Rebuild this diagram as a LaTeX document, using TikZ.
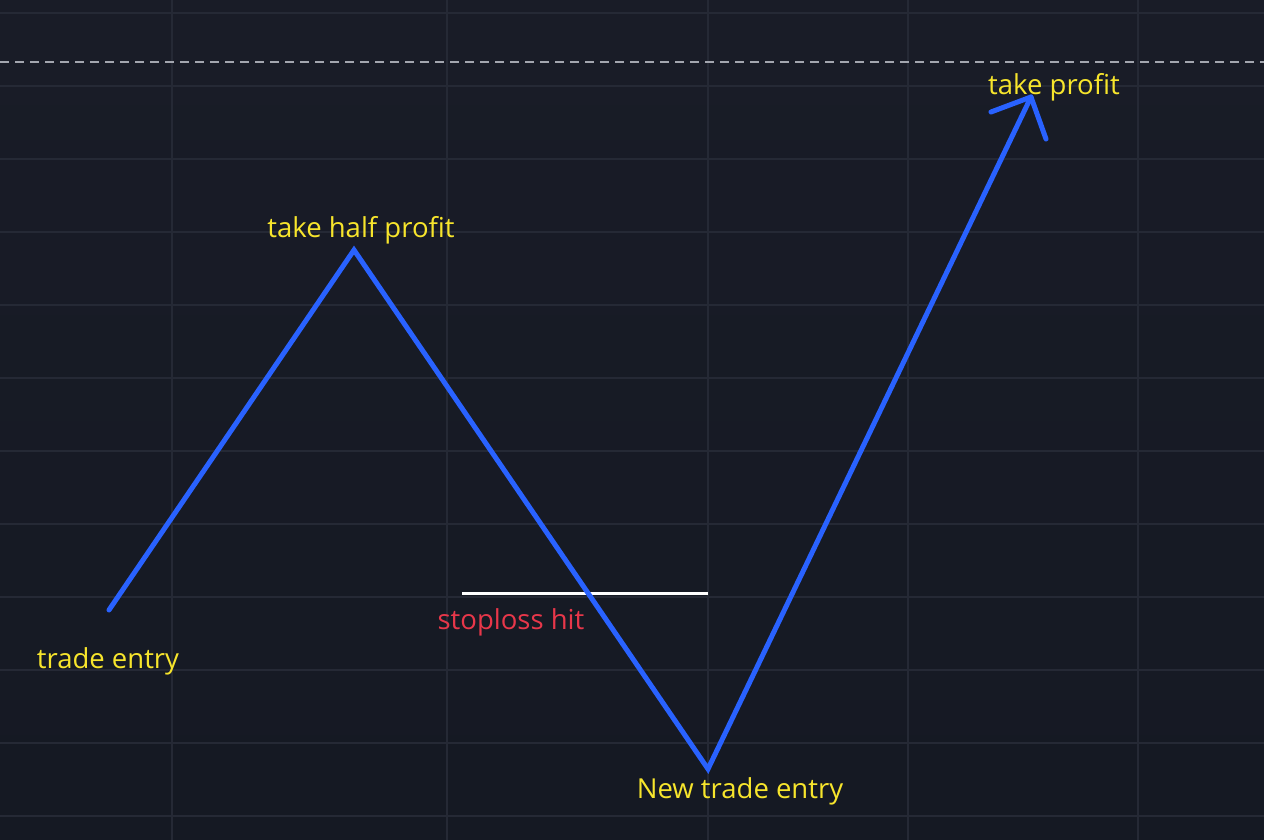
\documentclass[tikz,border=0pt]{standalone}
\usepackage{fontspec}
\setmainfont{Open Sans}
\begin{document}
\begin{tikzpicture}[x=1pt,y=-1pt,
  gridline/.style={draw=gridc,line width=1.2pt},
  pathline/.style={draw=tvblue,line width=5pt,line cap=round,line join=miter},
  lbl/.style={text=tvyellow,font=\fontsize{27.5}{32}\selectfont,anchor=base,inner sep=0pt},
  redlbl/.style={text=tvred,font=\fontsize{27.5}{32}\selectfont,anchor=base,inner sep=0pt}]
\definecolor{bgtop}{HTML}{191C27}
\definecolor{bgbot}{HTML}{151923}
\definecolor{gridc}{HTML}{252935}
\definecolor{tvblue}{HTML}{2962FF}
\definecolor{tvyellow}{HTML}{F7E52C}
\definecolor{tvred}{HTML}{E8374A}
\definecolor{dashc}{HTML}{A3A6AF}
\shade[top color=bgtop,bottom color=bgbot] (0,0) rectangle (1264,840);
\useasboundingbox (0,0) rectangle (1264,840);
% grid
\foreach \x in {172,447,708,908,1138} \draw[gridline] (\x,0) -- (\x,840);
\foreach \y in {13,86,159,232,305,378,451,524,597,670,743,816} \draw[gridline] (0,\y) -- (1264,\y);
% dashed line
\coordinate (dl) at (0,62);
\coordinate (dr) at (1264,62);
\draw[draw=dashc,line width=1.8pt,dash pattern=on 9pt off 6pt] (dl) -- (dr);
% stoploss line
\coordinate (sl1) at (462,593);
\coordinate (sl2) at (708,593);
\draw[white,line width=3pt] (sl1) -- (sl2);
% path
\coordinate (p0) at (109,610);
\coordinate (p1) at (354,250);
\coordinate (p2) at (708,769);
\coordinate (p3) at (1031,97);
\coordinate (a1) at (991,112);
\coordinate (a2) at (1046,139);
\draw[pathline] (p0) -- (p1) -- (p2) -- (p3);
\draw[pathline,line join=round] (a1) -- (p3) -- (a2);
% labels
\node[lbl] (t1) at (108,668) {trade entry};
\node[lbl] (t2) at (361,237) {take half profit};
\node[redlbl] (t3) at (511,629) {stoploss hit};
\node[lbl] (t4) at (740,798) {New trade entry};
\node[lbl] (t5) at (1054,95) {take profit};
\end{tikzpicture}
\end{document}
